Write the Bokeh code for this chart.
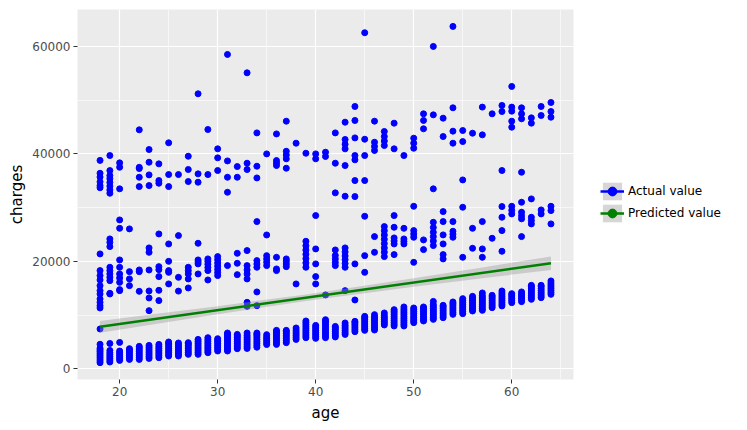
from bokeh.plotting import figure
from bokeh.models import (ColumnDataSource, Legend, LegendItem, SingleIntervalTicker,
                          NumeralTickFormatter, Range1d)
from bokeh.embed import file_html
from bokeh.resources import INLINE

# ---------------- data ----------------
ages = [18, 19, 20, 21, 22, 23, 24, 25, 26, 27, 28, 29, 30, 31, 32, 33, 34, 35, 36, 37, 38, 39,
        40, 41, 42, 43, 44, 45, 46, 47, 48, 49, 50, 51, 52, 53, 54, 55, 56, 57, 58, 59, 60, 61,
        62, 63, 64]

# dense lower band of actual charges, per age
base_charges = [
    [1120, 1450, 1800, 2150, 2500, 2850, 3200, 3500, 3800, 4550],
    [1250, 1600, 1950, 2300, 2650, 3000, 3400, 4700],
    [1550, 1900, 2250, 2600, 2950, 3300, 4900],
    [1730, 2100, 2450, 2800, 3150, 3450, 3730],
    [1730, 2100, 2450, 2800, 3150, 3500, 3850, 4160],
    [1920, 2250, 2600, 2950, 3300, 3650, 4000, 4340],
    [2050, 2400, 2750, 3100, 3450, 3800, 4150, 4530],
    [2370, 2700, 3050, 3400, 3750, 4100, 4450, 4750, 4980],
    [2370, 2700, 3050, 3400, 3750, 4100, 4450, 4790],
    [2670, 3000, 3350, 3700, 4050, 4400, 4650, 4850],
    [2670, 3000, 3350, 3700, 4050, 4400, 4750, 5100, 5460],
    [2980, 3300, 3650, 4000, 4350, 4700, 5050, 5400, 5780],
    [3300, 3650, 4000, 4350, 4700, 5000, 5300, 5590],
    [3300, 3650, 4000, 4350, 4700, 5050, 5400, 5750, 6100, 6400, 6650],
    [3730, 4050, 4400, 4750, 5100, 5450, 5800, 6100, 6390],
    [3780, 4100, 4450, 4800, 5150, 5500, 5850, 6200, 6650],
    [4000, 4350, 4700, 5050, 5400, 5750, 6100, 6400, 6650],
    [4500, 4850, 5200, 5550, 5900, 6340],
    [4530, 4850, 5200, 5550, 5900, 6250, 6600, 6900, 7140],
    [4850, 5200, 5550, 5900, 6250, 6600, 6900, 7140],
    [5460, 5800, 6150, 6500, 6850, 7200, 7590],
    [5780, 6100, 6450, 6800, 7150, 7500, 7850, 8200, 8550, 8890],
    [5650, 6000, 6350, 6700, 7050, 7400, 7750, 8070],
    [5780, 6100, 6450, 6800, 7150, 7500, 7850, 8200, 8550, 8850, 9130],
    [5910, 6250, 6600, 6950, 7300, 7600, 7880],
    [6390, 6700, 7050, 7400, 7750, 8100, 8520],
    [6900, 7250, 7600, 7950, 8300, 8600, 8820],
    [7140, 7450, 7800, 8150, 8500, 8850, 9200, 9500, 9750],
    [7210, 7550, 7900, 8250, 8600, 8950, 9300, 9650, 10070],
    [8150, 8500, 8850, 9200, 9550, 9900, 10380],
    [7960, 8300, 8650, 9000, 9350, 9700, 10050, 10400, 10700, 11000],
    [7960, 8300, 8650, 9000, 9350, 9700, 10050, 10400, 10750, 11100, 11500],
    [8580, 8900, 9250, 9600, 9950, 10300, 10650, 11000, 11310],
    [8890, 9200, 9550, 9900, 10250, 10600, 10950, 11250, 11500],
    [9190, 9500, 9850, 10200, 10550, 10900, 11250, 11600, 11950, 12540],
    [9500, 9850, 10200, 10550, 10900, 11250, 11550, 11800],
    [10120, 10450, 10800, 11150, 11500, 11850, 12150, 12430],
    [10250, 10600, 10950, 11300, 11650, 12000, 12350, 12700, 13050],
    [10750, 11100, 11450, 11800, 12150, 12500, 12850, 13150, 13480],
    [10870, 11200, 11550, 11900, 12250, 12600, 12950, 13300, 13600, 14110],
    [11370, 11700, 12050, 12400, 12750, 13100, 13400, 13660],
    [11690, 12000, 12350, 12700, 13050, 13400, 13750, 14100, 14480],
    [12300, 12650, 13000, 13350, 13700, 13980],
    [12490, 12850, 13200, 13550, 13900, 14300],
    [12920, 13250, 13600, 13950, 14300, 14650, 15000, 15300, 15530],
    [13230, 13550, 13900, 14250, 14600, 14950, 15300, 15530],
    [13850, 14200, 14550, 14900, 15250, 15600, 15950, 16350],
]

# middle band of actual charges, per age
mid_charges = [
    [7400, 11310, 11740, 12360, 12990, 13920, 14540, 15470, 16530, 17340, 18270, 21380],
    [13920, 14040, 16400, 17020, 17650, 18270, 18890, 22740, 23540, 24170],
    [14540, 14730, 16090, 16900, 17650, 18890, 20260, 26150, 27710],
    [15470, 16720, 18080, 26040],
    [14410, 18080, 18390],
    [10810, 13180, 14480, 18390, 21680, 22500],
    [12680, 14600, 17150, 18450, 19010, 25100],
    [15790, 17950, 18270, 20000, 23240],
    [14450, 17020, 24790],
    [15040, 16720, 17650, 18270, 18890],
    [17650, 19520, 19900, 20260, 23360],
    [16530, 18270, 18850, 19450, 20000, 20450],
    [17340, 17900, 18500, 19100, 19700, 20300, 20880],
    [19200],
    [17520, 19630, 21490],
    [11610, 12360, 16720, 17650, 18400, 19200, 22000],
    [11740, 14300, 18890, 19500, 20130, 27400],
    [19200, 19850, 20450, 21060, 24910],
    [18270, 18580, 20750],
    [19010, 19500, 20000, 20450],
    [15790],
    [18890, 19700, 20500, 21300, 22100, 22900, 23730],
    [15790, 17150, 19520, 22310, 28520],
    [13740],
    [19200, 19800, 20450, 21100, 22120],
    [14540, 18890, 19600, 20300, 21000, 21750, 22500],
    [12800, 19520],
    [17950, 21060, 28390],
    [21680, 24600],
    [20880, 21700, 22500, 23300, 24100, 24900, 25700, 26470],
    [21250, 23240, 23800, 24360, 26340, 28520],
    [23240, 23700, 24170, 26150],
    [19810, 24480, 25100, 25720, 30250],
    [22180, 23990],
    [22930, 23800, 24600, 25400, 26300, 27270, 33500],
    [20450, 21250, 23240, 24920, 27400, 29260],
    [24480, 25050, 25600, 27400],
    [20750, 30070],
    [22430, 26150],
    [20750, 22310, 27400],
    [24290],
    [21870, 25720, 28210, 30200],
    [28830, 29500, 30250],
    [24600, 27910, 28500, 29140, 31000],
    [26970, 27600, 28210, 31630],
    [28830, 29570],
    [26970, 29450, 30250],
]

# upper band of actual charges, per age
top_charges = [
    [33700, 34100, 34800, 35700, 36400, 38800],
    [32680, 33300, 34000, 34700, 35400, 35980, 36900, 39700],
    [33500, 37520, 38340],
    [],
    [33920, 35660, 37280, 37500, 44490],
    [34110, 36100, 38460, 40820],
    [34540, 35040, 38150],
    [33920, 36160, 42070],
    [36160],
    [34860, 37100, 39570],
    [34730, 36290, 51200],
    [36160, 44550],
    [36910, 39270, 40950],
    [32860, 35660, 38700, 58530],
    [35660, 37650],
    [37100, 38270, 55110],
    [35530, 37710, 43920],
    [40010],
    [37840, 38300, 38770, 43730],
    [37340, 39090, 39800, 40500, 46100],
    [42000],
    [40130],
    [39090, 40010],
    [39520, 40320],
    [32750, 38270, 43920],
    [32120, 37840, 40950, 41800, 42690, 45910],
    [32060, 35040, 38900, 39700, 42990, 46230, 48840],
    [35040, 39700, 42740, 62570],
    [40640, 41400, 42180, 46100],
    [41570, 42400, 43240, 44180],
    [40950, 45730],
    [39700],
    [41060, 42000, 42930],
    [44680, 46230, 47470],
    [47280, 60020],
    [43240, 46660],
    [42000, 44240, 48590, 63750],
    [35160, 42300, 44360],
    [43860],
    [43550, 48720],
    [47470],
    [36910, 47900, 49030],
    [44980, 46100, 47960, 48720, 52570],
    [36590, 46540, 47470, 48590],
    [45730, 46720],
    [47160, 48840],
    [46840, 47900, 49580],
]

# predicted (linear fit) line and its confidence band
pred_age = [18, 64]
pred_charges = [7800, 19650]
band_age = [18, 24, 30, 39, 50, 57, 64]
band_lower = [6700, 8440, 10160, 12600, 15270, 16850, 18400]
band_upper = [8900, 10260, 11640, 13840, 16830, 18850, 20920]

x_ticks_interval = 10
y_ticks_interval = 20000

# ---------------- build ----------------
act_x, act_y = [], []
for group in (base_charges, mid_charges, top_charges):
    for a, vals in zip(ages, group):
        for v in vals:
            act_x.append(a)
            act_y.append(v)

src = ColumnDataSource(data=dict(age=act_x, charges=act_y))

FONT = "DejaVu Sans"
p = figure(frame_width=496, frame_height=370, output_backend="svg", toolbar_location=None,
           x_range=Range1d(15.7, 66.3), y_range=Range1d(-2010, 66900),
           min_border_left=77, min_border_right=174, min_border_top=9, min_border_bottom=51)
p.background_fill_color = "#EBEBEB"
p.border_fill_color = "white"
p.outline_line_color = None

xt = SingleIntervalTicker(interval=x_ticks_interval, num_minor_ticks=2)
yt = SingleIntervalTicker(interval=y_ticks_interval, num_minor_ticks=2)
p.xaxis.ticker = xt
p.yaxis.ticker = yt
p.xgrid.ticker = xt
p.ygrid.ticker = yt
for g in (p.xgrid, p.ygrid):
    g.grid_line_color = "white"
    g.grid_line_width = 1.2
    g.minor_grid_line_color = "white"
    g.minor_grid_line_width = 0.6
p.yaxis.formatter = NumeralTickFormatter(format="0")

for ax in (p.xaxis, p.yaxis):
    ax.axis_line_color = None
    ax.major_tick_line_color = "#333333"
    ax.major_tick_out = 4
    ax.major_tick_in = 0
    ax.minor_tick_line_color = None
    ax.major_label_text_font = FONT
    ax.major_label_text_font_size = "12px"
    ax.major_label_text_color = "#4D4D4D"
    ax.major_label_standoff = 3
    ax.axis_label_text_font = FONT
    ax.axis_label_text_font_size = "15px"
    ax.axis_label_text_font_style = "normal"
    ax.axis_label_text_color = "black"
p.xaxis.axis_label = "age"
p.yaxis.axis_label = "charges"
p.xaxis.axis_label_standoff = 5
p.yaxis.axis_label_standoff = 3

r_pts = p.scatter("age", "charges", source=src, size=6, fill_color="blue",
                  line_color="blue")
r_band = p.varea(x=band_age, y1=band_lower, y2=band_upper, fill_color="#999999",
                 fill_alpha=0.4)
r_line = p.line(pred_age, pred_charges, line_color="green", line_width=2.5)

# legend-only glyphs (placed outside the visible ranges)
r_blue_line = p.line(x=[-100, -99], y=[-1e6, -1e6], line_color="blue", line_width=2.5)
r_green_pt = p.scatter(x=[-100], y=[-1e6], size=5, fill_color="green", line_color="green")

legend = Legend(items=[
    LegendItem(label="Actual value", renderers=[r_band, r_blue_line, r_pts]),
    LegendItem(label="Predicted value", renderers=[r_band, r_line, r_green_pt]),
], location=(27, 155))
legend.border_line_color = None
legend.background_fill_color = "white"
legend.background_fill_alpha = 0
legend.glyph_width = 24
legend.glyph_height = 22
legend.spacing = 0
legend.padding = 0
legend.margin = 0
legend.label_standoff = 4
legend.label_text_font = FONT
legend.label_text_font_size = "12px"
legend.label_text_color = "black"
p.add_layout(legend, "right")

open("out.html", "w").write(file_html(p, INLINE))
